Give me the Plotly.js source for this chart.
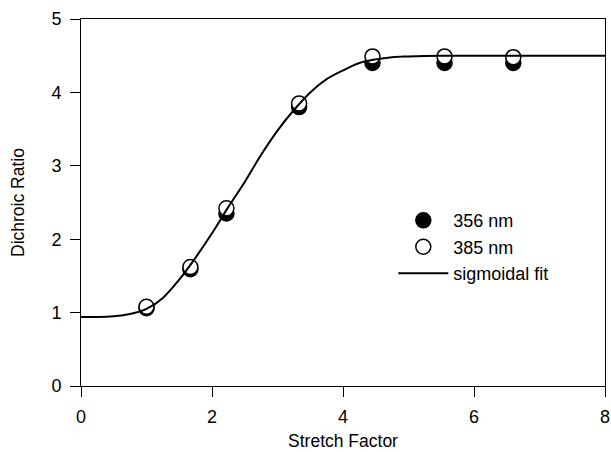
<!DOCTYPE html>
<html>
<head>
<meta charset="utf-8">
<script src="https://cdn.plot.ly/plotly-3.0.1.min.js"></script>
<style>html,body{margin:0;padding:0;background:#fff;}#chart{width:611px;height:452px;}</style>
</head>
<body>
<div id="chart"></div>
<script>
var stretchFactor = [1.0, 1.67, 2.22, 3.33, 4.45, 5.55, 6.6];
var ratio356 = [1.06, 1.59, 2.35, 3.80, 4.40, 4.40, 4.40];
var ratio385 = [1.08, 1.62, 2.42, 3.85, 4.49, 4.49, 4.48];
var fitX = [0, 0.25, 0.5, 0.75, 1.0, 1.25, 1.5, 1.75, 2.0, 2.25, 2.5, 2.75, 3.0, 3.25, 3.5, 3.75, 4.0, 4.25, 4.5, 4.75, 5.0, 5.5, 6, 7, 8];
var fitY = [0.94, 0.94, 0.95, 0.98, 1.05, 1.2, 1.45, 1.75, 2.08, 2.44, 2.78, 3.15, 3.48, 3.76, 4.0, 4.18, 4.3, 4.4, 4.45, 4.48, 4.49, 4.5, 4.5, 4.5, 4.5];

var font = 'Liberation Sans, Arial, sans-serif';
var traces = [
  {x: stretchFactor, y: ratio356, name: '356 nm', type: 'scatter', mode: 'markers',
   marker: {symbol: 'circle', size: 15, color: '#000', line: {color: '#000', width: 1.5}}},
  {x: stretchFactor, y: ratio385, name: '385 nm', type: 'scatter', mode: 'markers',
   marker: {symbol: 'circle', size: 15, color: '#fff', line: {color: '#000', width: 1.5}}},
  {x: fitX, y: fitY, name: 'sigmoidal fit', type: 'scatter', mode: 'lines',
   line: {color: '#000', width: 2, shape: 'spline'}}
];
var axisCommon = {showline: true, linecolor: '#000', linewidth: 1, mirror: true,
  ticks: 'outside', ticklen: 10, tickcolor: '#000', tickwidth: 1,
  showgrid: false, zeroline: false, tickfont: {family: font, size: 18, color: '#000'}};
var layout = {
  width: 611, height: 452,
  margin: {l: 81, r: 6, t: 19, b: 66},
  paper_bgcolor: '#fff', plot_bgcolor: '#fff',
  font: {family: font, size: 18, color: '#000'},
  showlegend: true,
  legend: {x: 0.596, y: 0.501, xanchor: 'left', yanchor: 'top', bgcolor: 'rgba(0,0,0,0)',
    itemwidth: 50, font: {family: font, size: 18, color: '#000'}},
  xaxis: Object.assign({}, axisCommon, {range: [0, 8], dtick: 2, tick0: 0, ticklabelstandoff: 4,
    title: {text: 'Stretch Factor', font: {family: font, size: 17.5, color: '#000'}, standoff: 9}}),
  yaxis: Object.assign({}, axisCommon, {range: [0, 5], dtick: 1, tick0: 0, ticklabelstandoff: 5,
    title: {text: 'Dichroic Ratio', font: {family: font, size: 17.5, color: '#000'}, standoff: 22}})
};
Plotly.newPlot('chart', traces, layout, {displayModeBar: false, staticPlot: true});
</script>
</body>
</html>
